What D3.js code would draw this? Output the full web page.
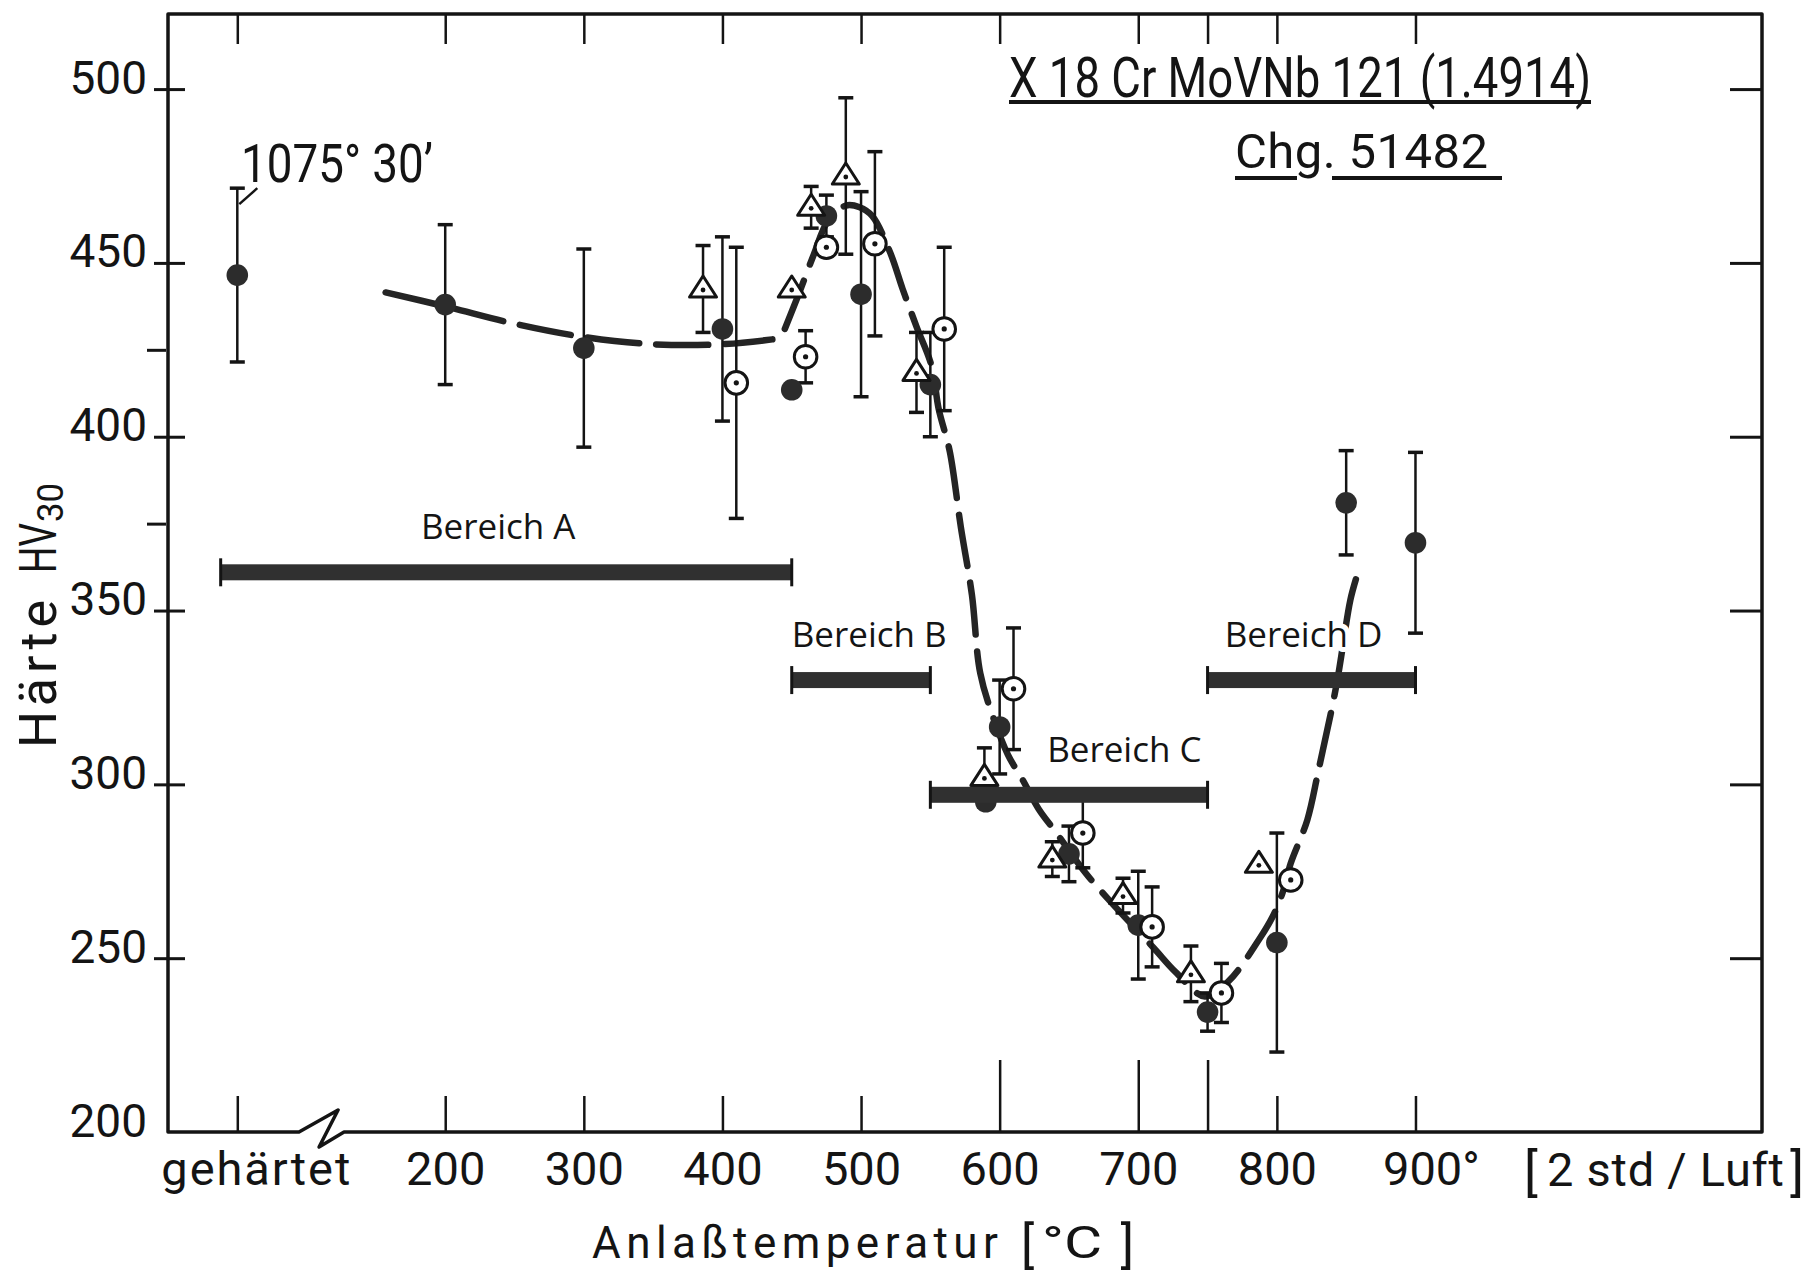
<!DOCTYPE html>
<html>
<head>
<meta charset="utf-8">
<script src="https://cdn.jsdelivr.net/npm/d3@7/dist/d3.min.js"></script>
<style>
  html, body { margin: 0; padding: 0; background: #fff; }
  svg { display: block; }
</style>
</head>
<body>
<svg id="chart" width="1819" height="1275"></svg>
<script>
// Vickers hardness HV30 of X18CrMoVNb121 vs. tempering temperature (2 h, air)
const HARDENED = "gehärtet";

// filled circles
const filledTemp = [HARDENED, 200, 300, 400, 450, 475, 500, 550, 590, 600, 650, 700, 750, 800, 850, 900];
const filledHV   = [446.5, 438, 425.5, 431, 413.5, 463.5, 441, 415, 295, 316.5, 280, 259.5, 234.5, 254.5, 381, 369.5];
const filledErr  = [25, 23, 28.5, 26.5, null, 6, 29.5, 15, null, 13.5, 8, 15.5, 5.5, 31.5, 15, 26];

// open circles with centre dot
const openTemp = [410, 460, 475, 510, 560, 610, 660, 710, 760, 810];
const openHV   = [415.5, 423, 454.5, 455.5, 431, 327.5, 286, 259, 240, 272.5];
const openErr  = [39, 7.5, null, 26.5, 23.5, 17.5, 10, 11.5, 8.5, null];

// open triangles with centre dot
const triTemp = [386, 450, 464, 489, 540, 589, 638, 689, 738, 787];
const triHV   = [442.5, 442.5, 466, 475, 418.5, 302, 278.5, 268, 245.5, 277];
const triErr  = [12.5, null, 6, 22.5, 11.5, 8.5, 5, 5, 8, null];

// dashed trend lines
const trendLowT  = [157, 200, 250, 300, 350, 400, 436];
const trendLowHV = [441.5, 437.5, 432.5, 428.7, 426.6, 426.6, 428];
const trendMainT  = [445, 455, 466, 476, 489, 499, 508, 521, 530, 540, 551, 556, 564, 572, 580, 586, 596, 606, 617, 628, 641, 662, 679, 711, 727, 748, 765, 787, 797, 804, 810, 822, 830, 843, 853, 857];
const trendMainHV = [431, 441, 452.5, 462, 466.5, 466, 463.5, 453, 442.5, 431.7, 420.2, 408, 395.8, 374, 354.5, 332, 318.5, 308.5, 301, 293, 286, 274.5, 266.7, 253, 246, 239, 243.3, 255.3, 262, 268.7, 277.3, 289.8, 304, 328.6, 353, 359];

// tempering ranges
const rangeNames = ["Bereich A", "Bereich B", "Bereich C", "Bereich D"];
const rangeFrom  = [38, 450, 550, 750];
const rangeTo    = [450, 550, 750, 900];
const rangeHV    = [361, 330, 297, 330];

// axis ticks
const xTickTemps  = [HARDENED, 200, 300, 400, 500, 600, 700, 750, 800, 900];
const xTickLabels = ["gehärtet", "200", "300", "400", "500", "600", "700", "", "800", "900°"];
const yTickValues = [200, 250, 300, 350, 400, 450, 500];
const yTickLabels = ["200", "250", "300", "350", "400", "450", "500"];
const yMinorTicks = [375, 425];
const yRightTicks = [250, 300, 350, 400, 450, 500];

// ---------------------------------------------------------------
const ink = "#141414";
const markFill = "#2c2c2c";
const font = "Roboto, 'DejaVu Sans', sans-serif";
const labelFont = "'Open Sans', 'Noto Sans', sans-serif";
const HARDENED_AT = 50;              // axis slot of the untempered state, left of the break
const longTicks = [600, 700, 750];

const svg = d3.select("#chart");
svg.append("rect").attr("width", 1819).attr("height", 1275).attr("fill", "#fff");

const x = d3.scaleLinear().domain([0, 1150]).range([168, 1762]);
const y = d3.scaleLinear().domain([200, 521.6]).range([1132, 14]);
const tpos = t => (t === HARDENED ? HARDENED_AT : t);
const px = t => x(tpos(t));

const [L, R] = x.range();
const [B, T] = y.range();

// frame with axis break between the hardened state and 200 °C
svg.append("path")
  .attr("d", `M${L},${B}V${T}H${R}V${B}H${x(127)}L${x(109)},${B + 15}L${x(122.7)},${B - 22}L${x(94.5)},${B}Z`)
  .attr("fill", "none").attr("stroke", ink).attr("stroke-width", 3.5).attr("stroke-linejoin", "round");

// left axis: major ticks crossing the frame, labels on the left
const gy = svg.append("g").attr("transform", `translate(${L},0)`)
  .call(d3.axisLeft(y).tickValues(yTickValues).tickFormat((d, i) => yTickLabels[i]).tickSize(14).tickPadding(7));
gy.attr("font-family", font).attr("font-size", 46);
gy.select(".domain").remove();
gy.selectAll(".tick line").attr("x1", 17).attr("stroke", ink).attr("stroke-width", 3);
gy.selectAll(".tick").filter(d => d === 200).select("line").remove();
gy.selectAll(".tick text").attr("x", -21).attr("dy", 4).attr("fill", ink);

const gyMinor = svg.append("g").attr("transform", `translate(${L},0)`)
  .call(d3.axisLeft(y).tickValues(yMinorTicks).tickSize(21).tickFormat(""));
gyMinor.select(".domain").remove();
gyMinor.selectAll(".tick line").attr("x1", -2).attr("stroke", ink).attr("stroke-width", 3);

// right axis: inward ticks only
const gr = svg.append("g").attr("transform", `translate(${R},0)`)
  .call(d3.axisRight(y).tickValues(yRightTicks).tickSize(-32).tickFormat(""));
gr.select(".domain").remove();
gr.selectAll(".tick line").attr("stroke", ink).attr("stroke-width", 3);

// top axis: inward ticks mirroring the bottom
const gt = svg.append("g").attr("transform", `translate(0,${T})`)
  .call(d3.axisTop(x).tickValues(xTickTemps.map(tpos)).tickSize(-30).tickFormat(""));
gt.select(".domain").remove();
gt.selectAll(".tick line").attr("stroke", ink).attr("stroke-width", 2.5);

// bottom axis
const gb = svg.append("g").attr("transform", `translate(0,${B})`)
  .call(d3.axisBottom(x).tickValues(xTickTemps.map(tpos)).tickFormat((d, i) => xTickLabels[i]).tickSize(-36));
gb.attr("font-family", font).attr("font-size", 47);
gb.select(".domain").remove();
gb.selectAll(".tick line").attr("stroke", ink).attr("stroke-width", 2.5)
  .filter(d => longTicks.includes(d)).attr("y2", -72);
gb.selectAll(".tick text").attr("y", 53).attr("dy", 0).attr("fill", ink);
gb.selectAll(".tick").filter(d => d === HARDENED_AT).select("text")
  .attr("dx", 18).attr("textLength", 189).attr("lengthAdjust", "spacing");
gb.selectAll(".tick").filter(d => d === 900).select("text")
  .attr("text-anchor", "start").attr("x", -33);

// unit of the bottom axis
const unit = svg.append("g").attr("font-family", font).attr("fill", ink);
unit.append("text").attr("x", 1524).attr("y", 1190).attr("font-size", 52).text("[");
unit.append("text").attr("x", 1547).attr("y", 1186).attr("font-size", 47)
  .attr("textLength", 237).attr("lengthAdjust", "spacing").text("2 std / Luft");
unit.append("text").attr("x", 1804).attr("y", 1190).attr("text-anchor", "end").attr("font-size", 52).text("]");

// axis titles
const titles = svg.append("g").attr("font-family", font).attr("fill", ink);
titles.append("text").attr("x", 592).attr("y", 1258).attr("font-size", 44)
  .attr("textLength", 406).attr("lengthAdjust", "spacing").text("Anlaßtemperatur");
titles.append("text").attr("x", 1021).attr("y", 1262).attr("font-size", 50).text("[");
titles.append("text").attr("x", 1042).attr("y", 1258).attr("font-size", 44)
  .attr("textLength", 60).attr("lengthAdjust", "spacingAndGlyphs").text("°C");
titles.append("text").attr("x", 1134).attr("y", 1262).attr("text-anchor", "end").attr("font-size", 50).text("]");

titles.append("text").attr("transform", "translate(56,748) rotate(-90)").attr("font-size", 52)
  .attr("textLength", 148).attr("lengthAdjust", "spacing").text("Härte");
titles.append("text").attr("transform", "translate(56,573) rotate(-90)").attr("font-size", 52)
  .attr("textLength", 50).attr("lengthAdjust", "spacingAndGlyphs").text("HV");
titles.append("text").attr("transform", "translate(63,522) rotate(-90)").attr("font-size", 36)
  .attr("textLength", 39).attr("lengthAdjust", "spacingAndGlyphs").text("30");

// steel grade and heat number
const head = svg.append("g").attr("font-family", font).attr("fill", ink);
head.append("text").attr("x", 1009).attr("y", 97).attr("font-size", 56)
  .attr("textLength", 582).attr("lengthAdjust", "spacingAndGlyphs").text("X 18 Cr MoVNb 121 (1.4914)");
head.append("text").attr("x", 1235).attr("y", 168).attr("font-size", 49)
  .attr("textLength", 253).attr("lengthAdjust", "spacing").text("Chg. 51482");
const ul = svg.append("g").attr("stroke", ink).attr("stroke-width", 4);
ul.append("line").attr("x1", 1009).attr("x2", 1591).attr("y1", 102).attr("y2", 102);
ul.append("line").attr("x1", 1235).attr("x2", 1297).attr("y1", 178).attr("y2", 178);
ul.append("line").attr("x1", 1332).attr("x2", 1502).attr("y1", 178).attr("y2", 178);

// dashed trend lines
const trendLine = d3.line().x(d => x(d[0])).y(d => y(d[1])).curve(d3.curveCatmullRom.alpha(0.5));
const trends = svg.append("g").attr("fill", "none").attr("stroke", "#242424")
  .attr("stroke-width", 6.5).attr("stroke-linecap", "round").attr("stroke-dasharray", "52 17");
trends.append("path").attr("d", trendLine(d3.zip(trendLowT, trendLowHV)));
trends.append("path").attr("d", trendLine(d3.zip(trendMainT, trendMainHV)));

// error bars
function errorBars(temps, hv, err) {
  const g = svg.append("g").attr("stroke", ink);
  temps.forEach((t, i) => {
    if (err[i] == null) return;
    const cx = px(t), y0 = y(hv[i] - err[i]), y1 = y(hv[i] + err[i]);
    g.append("line").attr("x1", cx).attr("x2", cx).attr("y1", y0).attr("y2", y1).attr("stroke-width", 2.5);
    [y0, y1].forEach(yy => g.append("line").attr("x1", cx - 7.5).attr("x2", cx + 7.5)
      .attr("y1", yy).attr("y2", yy).attr("stroke-width", 3.5));
  });
}
errorBars(filledTemp, filledHV, filledErr);
errorBars(openTemp, openHV, openErr);
errorBars(triTemp, triHV, triErr);

// leader from the hardened point to its annotation
{
  const gx = px(HARDENED), gTop = y(filledHV[0] + filledErr[0]);
  svg.append("line").attr("x1", gx + 2).attr("y1", gTop + 16).attr("x2", gx + 20).attr("y2", gTop)
    .attr("stroke", ink).attr("stroke-width", 2.5);
  svg.append("text").attr("x", 241).attr("y", 182).attr("font-family", font).attr("font-size", 53)
    .attr("fill", ink).attr("textLength", 192).attr("lengthAdjust", "spacingAndGlyphs").text("1075° 30’");
}

// markers
svg.append("g").selectAll("circle").data(d3.zip(filledTemp, filledHV)).join("circle")
  .attr("cx", d => px(d[0])).attr("cy", d => y(d[1])).attr("r", 10.8).attr("fill", markFill);

const gOpen = svg.append("g").selectAll("g").data(d3.zip(openTemp, openHV)).join("g")
  .attr("transform", d => `translate(${px(d[0])},${y(d[1])})`);
gOpen.append("circle").attr("r", 11.3).attr("fill", "#fff").attr("stroke", ink).attr("stroke-width", 3);
gOpen.append("circle").attr("r", 2.6).attr("fill", ink);

const gTri = svg.append("g").selectAll("g").data(d3.zip(triTemp, triHV)).join("g")
  .attr("transform", d => `translate(${px(d[0])},${y(d[1])})`);
gTri.append("path").attr("d", "M0,-13L13.5,8L-13.5,8Z").attr("fill", "#fff")
  .attr("stroke", ink).attr("stroke-width", 3).attr("stroke-linejoin", "round");
gTri.append("circle").attr("cy", 1).attr("r", 2.4).attr("fill", ink);

// tempering range bars with labels (labels keep a white halo over the trend line)
const labelAnchor = ["middle", "start", "end", "middle"];
const ranges = svg.append("g");
rangeNames.forEach((name, i) => {
  const x0 = x(rangeFrom[i]), x1 = x(rangeTo[i]), yc = y(rangeHV[i]);
  ranges.append("rect").attr("x", x0).attr("y", yc - 8).attr("width", x1 - x0).attr("height", 16).attr("fill", "#303030");
  [x0, x1].forEach(xx => ranges.append("line").attr("x1", xx).attr("x2", xx)
    .attr("y1", yc - 14).attr("y2", yc + 14).attr("stroke", ink).attr("stroke-width", 3));
  const lx = labelAnchor[i] === "start" ? x0 : labelAnchor[i] === "end" ? x1 - 6 : (x0 + x1) / 2 - 8;
  ranges.append("text").attr("x", lx).attr("y", yc - 33).attr("text-anchor", labelAnchor[i])
    .attr("font-family", labelFont).attr("font-size", 35).attr("fill", ink)
    .attr("stroke", "#fff").attr("stroke-width", 10).attr("stroke-linejoin", "round")
    .attr("paint-order", "stroke").text(name);
});
</script>
</body>
</html>
